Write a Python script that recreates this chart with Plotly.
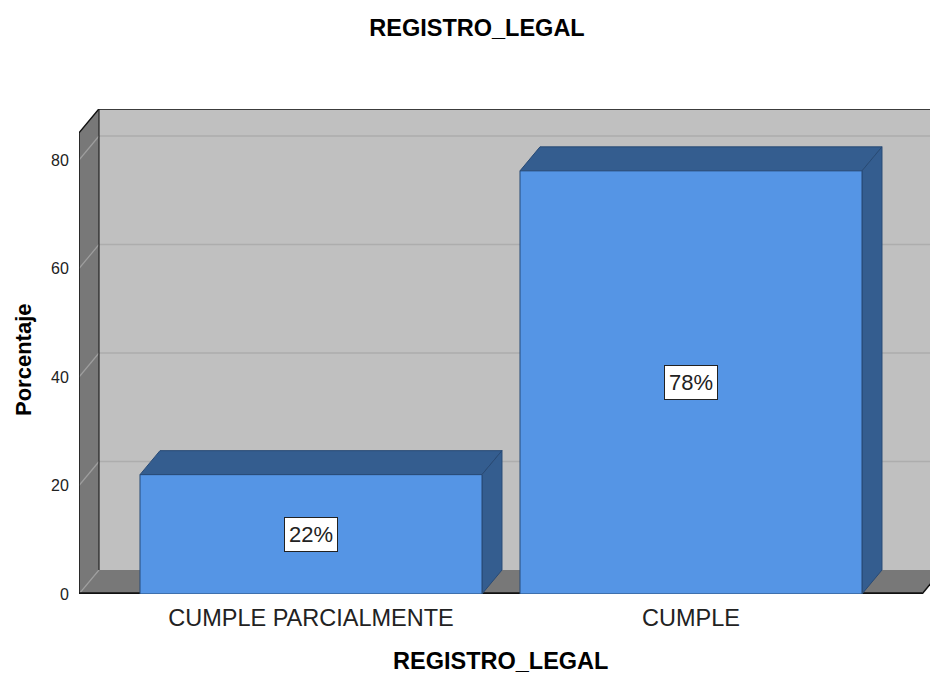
import plotly.graph_objects as go

# ---- data ----
categories = ["CUMPLE PARCIALMENTE", "CUMPLE"]
percentages = [22, 78]
value_labels = ["22%", "78%"]
y_ticks = [0, 20, 40, 60, 80]
title_text = "REGISTRO_LEGAL"
x_title = "REGISTRO_LEGAL"
y_title = "Porcentaje"

# ---- geometry (axis units) ----
W, H = 930, 675
ml, mr, mt, mb = 79, 0, 109, 81
pw, ph = W - ml - mr, H - mt - mb
px_per_cat = 380.0
x0 = -0.6105
x_range = [x0, x0 + pw / px_per_cat]
y_top = 85.0
px_per_val = 434.0 / 80.0
y_range = [0, ph / px_per_val]
dx = 20.0 / px_per_cat
dy = 24.0 / px_per_val
xl, xr = x0, 1.608
bw = 0.9

FRONT = "#5595E5"
DARK = "#345D8F"
WALL = "#C0C0C0"
SIDE = "#787878"

def poly(pts):
    return "M " + " L ".join(f"{a},{b}" for a, b in pts) + " Z"

shapes = []
# back wall
shapes.append(dict(type="path", xref="x", yref="y", layer="below",
                   path=poly([(xl + dx, dy), (xr + dx, dy), (xr + dx, y_top + dy), (xl + dx, y_top + dy)]),
                   fillcolor=WALL, line=dict(width=0)))
# floor
shapes.append(dict(type="path", xref="x", yref="y", layer="below",
                   path=poly([(xl, 0), (xr, 0), (xr + dx, dy), (xl + dx, dy)]),
                   fillcolor=SIDE, line=dict(width=0)))
# left wall
shapes.append(dict(type="path", xref="x", yref="y", layer="below",
                   path=poly([(xl, 0), (xl + dx, dy), (xl + dx, y_top + dy), (xl, y_top)]),
                   fillcolor=SIDE, line=dict(width=0)))
# gridlines
for v in y_ticks:
    if v > 0:
        shapes.append(dict(type="line", xref="x", yref="y", layer="below",
                           x0=xl + dx, x1=xr + dx, y0=v + dy, y1=v + dy,
                           line=dict(color="#ADADAD", width=1.5)))
    shapes.append(dict(type="line", xref="x", yref="y", layer="below",
                       x0=xl, x1=xl + dx, y0=v, y1=v + dy,
                       line=dict(color="#9E9E9E", width=1.2)))
# outlines
outline = dict(color="#111111", width=1.5)
shapes.append(dict(type="path", xref="x", yref="y", layer="below",
                   path=f"M {xl},0 L {xl},{y_top} L {xl+dx},{y_top+dy} L {xr+dx+1},{y_top+dy}",
                   line=outline))
shapes.append(dict(type="line", xref="x", yref="y", layer="below",
                   x0=xl + dx, x1=xl + dx, y0=dy, y1=y_top + dy, line=dict(color="#222222", width=1.2)))
shapes.append(dict(type="line", xref="x", yref="y", layer="below",
                   x0=xl, x1=xr, y0=0.15, y1=0.15, line=dict(color="#111111", width=2)))
shapes.append(dict(type="path", xref="x", yref="y", layer="below",
                   path=f"M {xr},0 L {xr+dx},{dy}", line=dict(color="#111111", width=1.5)))

# bar top and side faces
for i, v in enumerate(percentages):
    a, b = i - bw / 2, i + bw / 2
    shapes.append(dict(type="path", xref="x", yref="y", layer="below",
                       path=poly([(a, v), (b, v), (b + dx, v + dy), (a + dx, v + dy)]),
                       fillcolor=DARK, line=dict(color="#284A75", width=1)))
    shapes.append(dict(type="path", xref="x", yref="y", layer="below",
                       path=poly([(b, 0), (b + dx, dy), (b + dx, v + dy), (b, v)]),
                       fillcolor=DARK, line=dict(color="#284A75", width=1)))

fig = go.Figure()
fig.add_trace(go.Bar(x=list(range(len(categories))), y=percentages, width=bw,
                     marker=dict(color=FRONT, line=dict(color="#284A75", width=1)),
                     hoverinfo="skip"))

FONT = "Liberation Sans, Arial"
annotations = []
for i, v in enumerate(percentages):
    annotations.append(dict(x=i, y=v / 2, xref="x", yref="y", text=value_labels[i],
                            xanchor="center", yanchor="middle",
                            showarrow=False, font=dict(size=22, color="#222222", family=FONT),
                            bgcolor="white", bordercolor="#222222", borderwidth=1, borderpad=4))
annotations.append(dict(x=(500 - ml) / pw, y=-(661 - (H - mb)) / ph, xref="paper", yref="paper",
                        xanchor="center", yanchor="middle",
                        text=f"<b>{x_title}</b>", showarrow=False,
                        font=dict(size=23.5, color="black", family=FONT)))
annotations.append(dict(x=(23 - ml) / pw, y=((H - mb) - 360) / ph, xref="paper", yref="paper",
                        xanchor="center", yanchor="middle",
                        text=f"<b>{y_title}</b>", showarrow=False, textangle=-90,
                        font=dict(size=22, color="black", family=FONT)))

fig.update_layout(
    width=W, height=H,
    margin=dict(l=ml, r=mr, t=mt, b=mb),
    paper_bgcolor="white", plot_bgcolor="white",
    title=dict(text=f"<b>{title_text}</b>", x=477 / W, xanchor="center", y=1 - 28 / H, yanchor="middle",
               font=dict(size=23.5, color="black", family=FONT)),
    shapes=shapes, annotations=annotations, showlegend=False,
    font=dict(family=FONT, color="#222222"),
    xaxis=dict(range=x_range, tickvals=list(range(len(categories))), ticktext=categories,
               showgrid=False, zeroline=False, showline=False, ticks="outside", ticklen=3,
               tickcolor="rgba(0,0,0,0)", tickfont=dict(size=23.5, color="#222222"), fixedrange=True),
    yaxis=dict(range=y_range, tickvals=y_ticks, showgrid=False, zeroline=False, showline=False,
               ticks="outside", ticklen=6, tickcolor="rgba(0,0,0,0)",
               tickfont=dict(size=16, color="#222222"), fixedrange=True),
)

fig.write_html("out.html", config={"displayModeBar": False},
               post_script="document.body.style.margin='0';document.body.style.overflow='hidden';")
